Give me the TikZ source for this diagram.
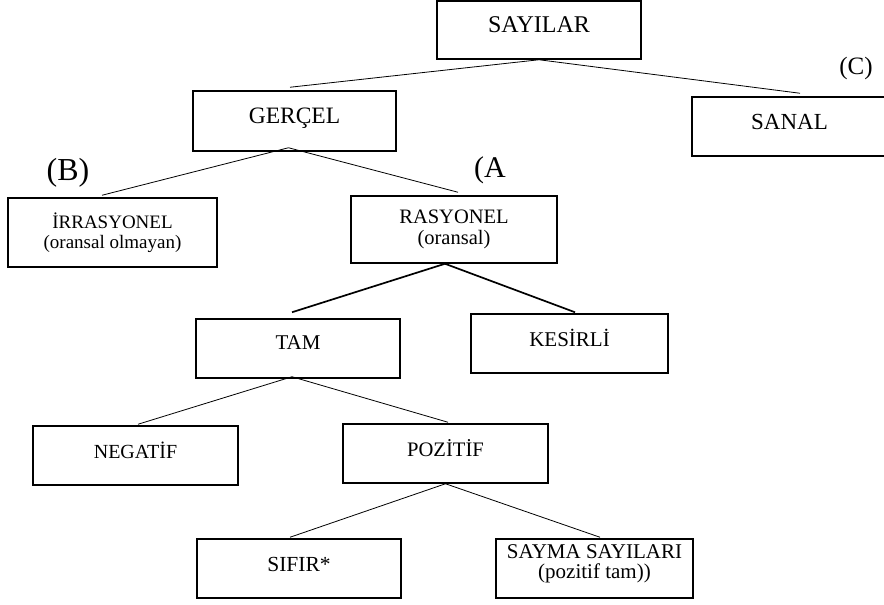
\documentclass[tikz,border=0pt]{standalone}
\usepackage{fontspec}
\setmainfont{Liberation Serif}
\usetikzlibrary{calc}
\begin{document}
\begin{tikzpicture}[x=1pt,y=-1pt,
  box/.style={draw, line width=1.5pt, inner sep=0pt, align=center},
  one/.style={box, text height=15pt, text depth=10pt, minimum height=59pt},
  thin/.style={line width=0.8pt},
  heavy/.style={line width=1.7pt},
  tag/.style={anchor=base, inner sep=0pt}]
\useasboundingbox (0,0) rectangle (884,605);
\clip (0,0) rectangle (884,605);
% boxes
\node[one, minimum width=204pt, minimum height=58pt, font=\fontsize{24}{24}\selectfont] (sayilar) at (539,30) {SAYILAR};
\node[one, minimum width=203pt, minimum height=60pt, font=\fontsize{23.5}{24}\selectfont] (gercel) at (294.5,121) {GERÇEL};
\node[one, minimum width=195pt, font=\fontsize{23}{24}\selectfont] (sanal) at (789.5,126.5) {SANAL};
\node[box, minimum width=209pt, minimum height=69pt, font=\fontsize{19}{20.5}\selectfont] (irr) at (112.5,232.5) {İRRASYONEL\\(oransal olmayan)};
\node[box, minimum width=206pt, minimum height=67pt, font=\fontsize{20.5}{20.5}\selectfont] (ras) at (454,229.5) {RASYONEL\\(oransal)};
\node[one, minimum width=204pt, text depth=14pt, font=\fontsize{21}{22}\selectfont] (tam) at (298,348.5) {TAM};
\node[one, minimum width=197pt, font=\fontsize{21}{22}\selectfont] (kes) at (569.5,343.5) {KESİRLİ};
\node[one, minimum width=205pt, font=\fontsize{20}{22}\selectfont] (neg) at (135.5,455.5) {NEGATİF};
\node[one, minimum width=205pt, font=\fontsize{20.6}{22}\selectfont] (poz) at (445.5,453.5) {POZİTİF};
\node[one, minimum width=204pt, font=\fontsize{21.5}{22}\selectfont] (sifir) at (299,568.5) {SIFIR*};
\node[box, minimum width=197pt, minimum height=59pt, text depth=14pt, font=\fontsize{21}{19.5}\selectfont] (sayma) at (594.5,568.5) {SAYMA SAYILARI\\(pozitif tam))};
% labels
\node[tag, font=\fontsize{32}{32}\selectfont] (lb) at (68,180) {(B)};
\node[tag, font=\fontsize{30}{30}\selectfont] (la) at (490,177) {(A};
\node[tag, font=\fontsize{25}{25}\selectfont] (lc) at (856,74) {(C)};
% connectors
\draw[thin] (sayilar.south) -- ([xshift=-4.5pt,yshift=3pt]gercel.north);
\draw[thin] (sayilar.south) -- ([xshift=10.5pt,yshift=3pt]sanal.north);
\coordinate (gs) at ([xshift=-6pt,yshift=4pt]gercel.south);
\draw[thin] (gs) -- ([xshift=-10.5pt,yshift=2pt]irr.north);
\draw[thin] (gs) -- ([xshift=4pt,yshift=3pt]ras.north);
\coordinate (rs) at ([xshift=-9pt]ras.south);
\draw[heavy] (rs) -- ([xshift=-6pt,yshift=6pt]tam.north);
\draw[heavy] (rs) -- ([xshift=5.5pt,yshift=1pt]kes.north);
\coordinate (ts) at ([xshift=-6pt,yshift=2pt]tam.south);
\draw[thin] (ts) -- ([xshift=2.5pt,yshift=1pt]neg.north);
\draw[thin] (ts) -- ([xshift=2.5pt,yshift=1pt]poz.north);
\draw[thin] (poz.south) -- ([xshift=-9pt,yshift=1pt]sifir.north);
\draw[thin] (poz.south) -- ([xshift=5.5pt,yshift=1pt]sayma.north);
\end{tikzpicture}
\end{document}
